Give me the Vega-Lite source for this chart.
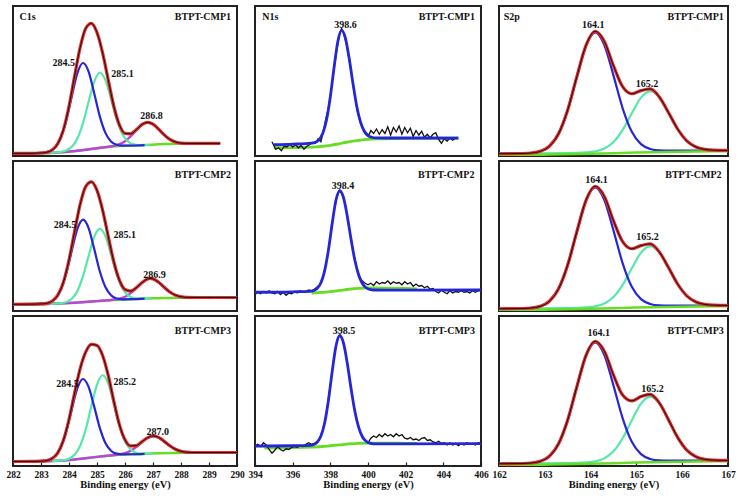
{
"$schema":"https://vega.github.io/schema/vega-lite/v6.json",
"padding":{"left":5,"top":5,"right":0,"bottom":0},
"background":"white",
"data":{"values":[
{"c":"C","r":1,"s":"bg","x":282,"y":1.8},{"c":"C","r":1,"s":"bg","x":283,"y":1.9},{"c":"C","r":1,"s":"bg","x":283.6,"y":2.3},{"c":"C","r":1,"s":"bg","x":284,"y":2.9},{"c":"C","r":1,"s":"bg","x":284.4,"y":3.7},{"c":"C","r":1,"s":"bg","x":284.8,"y":4.7},{"c":"C","r":1,"s":"bg","x":285.2,"y":5.7},{"c":"C","r":1,"s":"bg","x":285.6,"y":6.4},{"c":"C","r":1,"s":"bg","x":286,"y":6.8},{"c":"C","r":1,"s":"bg","x":286.4,"y":7.0},{"c":"C","r":1,"s":"bg","x":286.8,"y":7.4},{"c":"C","r":1,"s":"bg","x":287.2,"y":7.8},{"c":"C","r":1,"s":"bg","x":287.6,"y":8.0},{"c":"C","r":1,"s":"bg","x":288,"y":8.2},{"c":"C","r":1,"s":"bg","x":288.4,"y":8.3},{"c":"C","r":1,"s":"bg","x":289.4,"y":8.4},
{"c":"C","r":1,"s":"b","x":282,"y":1.8},{"c":"C","r":1,"s":"b","x":282.6,"y":1.8},{"c":"C","r":1,"s":"b","x":283.1,"y":2.2},{"c":"C","r":1,"s":"b","x":283.3,"y":3.1},{"c":"C","r":1,"s":"b","x":283.5,"y":5.6},{"c":"C","r":1,"s":"b","x":283.7,"y":11.9},{"c":"C","r":1,"s":"b","x":283.9,"y":23.7},{"c":"C","r":1,"s":"b","x":284.1,"y":39.9},{"c":"C","r":1,"s":"b","x":284.3,"y":55.3},{"c":"C","r":1,"s":"b","x":284.5,"y":62.0},{"c":"C","r":1,"s":"b","x":284.7,"y":56.3},{"c":"C","r":1,"s":"b","x":284.9,"y":41.8},{"c":"C","r":1,"s":"b","x":285.1,"y":26.4},{"c":"C","r":1,"s":"b","x":285.3,"y":15.4},{"c":"C","r":1,"s":"b","x":285.5,"y":9.7},{"c":"C","r":1,"s":"b","x":285.7,"y":7.5},{"c":"C","r":1,"s":"b","x":285.9,"y":6.9},{"c":"C","r":1,"s":"b","x":286.3,"y":7.0},{"c":"C","r":1,"s":"b","x":286.7,"y":7.3},
{"c":"C","r":1,"s":"g","x":283.3,"y":2.05},{"c":"C","r":1,"s":"g","x":283.7,"y":2.7},{"c":"C","r":1,"s":"g","x":283.9,"y":3.6},{"c":"C","r":1,"s":"g","x":284.1,"y":6.1},{"c":"C","r":1,"s":"g","x":284.3,"y":11.7},{"c":"C","r":1,"s":"g","x":284.5,"y":22.0},{"c":"C","r":1,"s":"g","x":284.7,"y":36.2},{"c":"C","r":1,"s":"g","x":284.9,"y":49.6},{"c":"C","r":1,"s":"g","x":285.1,"y":55.5},{"c":"C","r":1,"s":"g","x":285.3,"y":50.6},{"c":"C","r":1,"s":"g","x":285.5,"y":38.0},{"c":"C","r":1,"s":"g","x":285.7,"y":24.5},{"c":"C","r":1,"s":"g","x":285.9,"y":14.9},{"c":"C","r":1,"s":"g","x":286.1,"y":9.8},{"c":"C","r":1,"s":"g","x":286.3,"y":7.8},{"c":"C","r":1,"s":"g","x":286.5,"y":7.3},{"c":"C","r":1,"s":"g","x":286.9,"y":7.5},
{"c":"C","r":1,"s":"p","x":282,"y":1.8},{"c":"C","r":1,"s":"p","x":282.8,"y":1.9},{"c":"C","r":1,"s":"p","x":283.4,"y":2.1},{"c":"C","r":1,"s":"p","x":283.8,"y":2.6},{"c":"C","r":1,"s":"p","x":284.2,"y":3.3},{"c":"C","r":1,"s":"p","x":284.6,"y":4.2},{"c":"C","r":1,"s":"p","x":285,"y":5.2},{"c":"C","r":1,"s":"p","x":285.4,"y":6.2},{"c":"C","r":1,"s":"p","x":285.6,"y":6.8},{"c":"C","r":1,"s":"p","x":285.8,"y":7.9},{"c":"C","r":1,"s":"p","x":286,"y":9.9},{"c":"C","r":1,"s":"p","x":286.2,"y":13.1},{"c":"C","r":1,"s":"p","x":286.4,"y":17.1},{"c":"C","r":1,"s":"p","x":286.6,"y":20.8},{"c":"C","r":1,"s":"p","x":286.8,"y":22.4},{"c":"C","r":1,"s":"p","x":287,"y":21.2},{"c":"C","r":1,"s":"p","x":287.2,"y":17.9},{"c":"C","r":1,"s":"p","x":287.4,"y":14.1},{"c":"C","r":1,"s":"p","x":287.6,"y":11.1},{"c":"C","r":1,"s":"p","x":287.8,"y":9.4},{"c":"C","r":1,"s":"p","x":288,"y":8.6},{"c":"C","r":1,"s":"p","x":288.2,"y":8.4},{"c":"C","r":1,"s":"p","x":288.8,"y":8.4},{"c":"C","r":1,"s":"p","x":289.4,"y":8.4},
{"c":"C","r":1,"s":"f","x":282,"y":1.8},{"c":"C","r":1,"s":"f","x":282.6,"y":1.8},{"c":"C","r":1,"s":"f","x":283,"y":2.0},{"c":"C","r":1,"s":"f","x":283.2,"y":2.5},{"c":"C","r":1,"s":"f","x":283.4,"y":4.0},{"c":"C","r":1,"s":"f","x":283.6,"y":8.3},{"c":"C","r":1,"s":"f","x":283.8,"y":17.4},{"c":"C","r":1,"s":"f","x":284,"y":33.1},{"c":"C","r":1,"s":"f","x":284.2,"y":53.3},{"c":"C","r":1,"s":"f","x":284.4,"y":72.5},{"c":"C","r":1,"s":"f","x":284.6,"y":85.2},{"c":"C","r":1,"s":"f","x":284.8,"y":88.4},{"c":"C","r":1,"s":"f","x":285,"y":82.3},{"c":"C","r":1,"s":"f","x":285.2,"y":68.7},{"c":"C","r":1,"s":"f","x":285.4,"y":50.9},{"c":"C","r":1,"s":"f","x":285.6,"y":33.3},{"c":"C","r":1,"s":"f","x":285.8,"y":20.8},{"c":"C","r":1,"s":"f","x":286,"y":15.1},{"c":"C","r":1,"s":"f","x":286.2,"y":14.8},{"c":"C","r":1,"s":"f","x":286.4,"y":17.5},{"c":"C","r":1,"s":"f","x":286.6,"y":20.9},{"c":"C","r":1,"s":"f","x":286.8,"y":22.4},{"c":"C","r":1,"s":"f","x":287,"y":21.2},{"c":"C","r":1,"s":"f","x":287.2,"y":17.9},{"c":"C","r":1,"s":"f","x":287.4,"y":14.1},{"c":"C","r":1,"s":"f","x":287.6,"y":11.1},{"c":"C","r":1,"s":"f","x":287.8,"y":9.4},{"c":"C","r":1,"s":"f","x":288,"y":8.6},{"c":"C","r":1,"s":"f","x":288.2,"y":8.4},{"c":"C","r":1,"s":"f","x":288.8,"y":8.4},{"c":"C","r":1,"s":"f","x":289.4,"y":8.4},
{"c":"C","r":1,"s":"lab","x":283.81,"y":62.2,"t":"284.5"},{"c":"C","r":1,"s":"lab","x":285.91,"y":54.9,"t":"285.1"},{"c":"C","r":1,"s":"lab","x":286.95,"y":26.8,"t":"286.8"},{"c":"C","r":1,"s":"lab","x":282.52,"y":92.6,"t":"C1s"},{"c":"C","r":1,"s":"nm","x":289.79,"y":92.6,"t":"BTPT-CMP1"},

{"c":"C","r":2,"s":"bg","x":282,"y":4.5},{"c":"C","r":2,"s":"bg","x":283,"y":4.6},{"c":"C","r":2,"s":"bg","x":283.6,"y":4.95},{"c":"C","r":2,"s":"bg","x":284,"y":5.3},{"c":"C","r":2,"s":"bg","x":284.4,"y":5.75},{"c":"C","r":2,"s":"bg","x":284.8,"y":6.3},{"c":"C","r":2,"s":"bg","x":285.2,"y":6.85},{"c":"C","r":2,"s":"bg","x":285.6,"y":7.3},{"c":"C","r":2,"s":"bg","x":286,"y":7.65},{"c":"C","r":2,"s":"bg","x":286.4,"y":7.95},{"c":"C","r":2,"s":"bg","x":286.8,"y":8.3},{"c":"C","r":2,"s":"bg","x":287.2,"y":8.5},{"c":"C","r":2,"s":"bg","x":287.6,"y":8.7},{"c":"C","r":2,"s":"bg","x":288,"y":8.85},{"c":"C","r":2,"s":"bg","x":288.4,"y":8.9},{"c":"C","r":2,"s":"bg","x":290,"y":9.0},
{"c":"C","r":2,"s":"b","x":282,"y":4.5},{"c":"C","r":2,"s":"b","x":282.6,"y":4.55},{"c":"C","r":2,"s":"b","x":283.1,"y":4.9},{"c":"C","r":2,"s":"b","x":283.3,"y":5.7},{"c":"C","r":2,"s":"b","x":283.5,"y":8.1},{"c":"C","r":2,"s":"b","x":283.7,"y":14.0},{"c":"C","r":2,"s":"b","x":283.9,"y":25.0},{"c":"C","r":2,"s":"b","x":284.1,"y":40.3},{"c":"C","r":2,"s":"b","x":284.3,"y":54.7},{"c":"C","r":2,"s":"b","x":284.5,"y":60.9},{"c":"C","r":2,"s":"b","x":284.7,"y":55.3},{"c":"C","r":2,"s":"b","x":284.9,"y":41.4},{"c":"C","r":2,"s":"b","x":285.1,"y":26.5},{"c":"C","r":2,"s":"b","x":285.3,"y":16.0},{"c":"C","r":2,"s":"b","x":285.5,"y":10.5},{"c":"C","r":2,"s":"b","x":285.7,"y":8.3},{"c":"C","r":2,"s":"b","x":285.9,"y":7.8},{"c":"C","r":2,"s":"b","x":286.3,"y":7.9},{"c":"C","r":2,"s":"b","x":286.7,"y":8.2},
{"c":"C","r":2,"s":"g","x":283.3,"y":4.75},{"c":"C","r":2,"s":"g","x":283.7,"y":5.2},{"c":"C","r":2,"s":"g","x":283.9,"y":6.0},{"c":"C","r":2,"s":"g","x":284.1,"y":8.2},{"c":"C","r":2,"s":"g","x":284.3,"y":13.4},{"c":"C","r":2,"s":"g","x":284.5,"y":23.2},{"c":"C","r":2,"s":"g","x":284.7,"y":36.7},{"c":"C","r":2,"s":"g","x":284.9,"y":49.4},{"c":"C","r":2,"s":"g","x":285.1,"y":54.7},{"c":"C","r":2,"s":"g","x":285.3,"y":49.9},{"c":"C","r":2,"s":"g","x":285.5,"y":37.7},{"c":"C","r":2,"s":"g","x":285.7,"y":24.7},{"c":"C","r":2,"s":"g","x":285.9,"y":15.4},{"c":"C","r":2,"s":"g","x":286.1,"y":10.6},{"c":"C","r":2,"s":"g","x":286.3,"y":8.7},{"c":"C","r":2,"s":"g","x":286.5,"y":8.2},{"c":"C","r":2,"s":"g","x":286.9,"y":8.35},
{"c":"C","r":2,"s":"p","x":282,"y":4.5},{"c":"C","r":2,"s":"p","x":282.8,"y":4.55},{"c":"C","r":2,"s":"p","x":283.4,"y":4.8},{"c":"C","r":2,"s":"p","x":283.8,"y":5.1},{"c":"C","r":2,"s":"p","x":284.2,"y":5.5},{"c":"C","r":2,"s":"p","x":284.6,"y":6.0},{"c":"C","r":2,"s":"p","x":285,"y":6.6},{"c":"C","r":2,"s":"p","x":285.3,"y":7.0},{"c":"C","r":2,"s":"p","x":285.5,"y":7.3},{"c":"C","r":2,"s":"p","x":285.7,"y":7.8},{"c":"C","r":2,"s":"p","x":285.9,"y":8.7},{"c":"C","r":2,"s":"p","x":286.1,"y":10.5},{"c":"C","r":2,"s":"p","x":286.3,"y":13.4},{"c":"C","r":2,"s":"p","x":286.5,"y":17.0},{"c":"C","r":2,"s":"p","x":286.7,"y":20.3},{"c":"C","r":2,"s":"p","x":286.9,"y":21.7},{"c":"C","r":2,"s":"p","x":287.1,"y":20.6},{"c":"C","r":2,"s":"p","x":287.3,"y":17.5},{"c":"C","r":2,"s":"p","x":287.5,"y":14.1},{"c":"C","r":2,"s":"p","x":287.7,"y":11.5},{"c":"C","r":2,"s":"p","x":287.9,"y":10.0},{"c":"C","r":2,"s":"p","x":288.1,"y":9.3},{"c":"C","r":2,"s":"p","x":288.3,"y":9.0},{"c":"C","r":2,"s":"p","x":289,"y":9.0},{"c":"C","r":2,"s":"p","x":290,"y":9.0},
{"c":"C","r":2,"s":"f","x":282,"y":4.5},{"c":"C","r":2,"s":"f","x":282.6,"y":4.55},{"c":"C","r":2,"s":"f","x":283,"y":4.7},{"c":"C","r":2,"s":"f","x":283.2,"y":5.1},{"c":"C","r":2,"s":"f","x":283.4,"y":6.6},{"c":"C","r":2,"s":"f","x":283.6,"y":10.6},{"c":"C","r":2,"s":"f","x":283.8,"y":19.2},{"c":"C","r":2,"s":"f","x":284,"y":34.0},{"c":"C","r":2,"s":"f","x":284.2,"y":53.0},{"c":"C","r":2,"s":"f","x":284.4,"y":71.2},{"c":"C","r":2,"s":"f","x":284.6,"y":83.1},{"c":"C","r":2,"s":"f","x":284.8,"y":86.1},{"c":"C","r":2,"s":"f","x":285,"y":80.4},{"c":"C","r":2,"s":"f","x":285.2,"y":67.3},{"c":"C","r":2,"s":"f","x":285.4,"y":49.9},{"c":"C","r":2,"s":"f","x":285.6,"y":32.9},{"c":"C","r":2,"s":"f","x":285.8,"y":20.6},{"c":"C","r":2,"s":"f","x":286,"y":14.4},{"c":"C","r":2,"s":"f","x":286.2,"y":13.3},{"c":"C","r":2,"s":"f","x":286.4,"y":15.5},{"c":"C","r":2,"s":"f","x":286.6,"y":18.8},{"c":"C","r":2,"s":"f","x":286.8,"y":21.3},{"c":"C","r":2,"s":"f","x":286.9,"y":21.7},{"c":"C","r":2,"s":"f","x":287,"y":21.4},{"c":"C","r":2,"s":"f","x":287.2,"y":19.2},{"c":"C","r":2,"s":"f","x":287.4,"y":15.8},{"c":"C","r":2,"s":"f","x":287.6,"y":12.7},{"c":"C","r":2,"s":"f","x":287.8,"y":10.6},{"c":"C","r":2,"s":"f","x":288,"y":9.5},{"c":"C","r":2,"s":"f","x":288.2,"y":9.1},{"c":"C","r":2,"s":"f","x":288.6,"y":9.0},{"c":"C","r":2,"s":"f","x":289.2,"y":9.0},{"c":"C","r":2,"s":"f","x":290,"y":9.0},
{"c":"C","r":2,"s":"lab","x":283.86,"y":57.2,"t":"284.5"},{"c":"C","r":2,"s":"lab","x":285.99,"y":51,"t":"285.1"},{"c":"C","r":2,"s":"lab","x":287.05,"y":24,"t":"286.9"},{"c":"C","r":2,"s":"nm","x":289.79,"y":91,"t":"BTPT-CMP2"},

{"c":"C","r":3,"s":"bg","x":282,"y":3.0},{"c":"C","r":3,"s":"bg","x":283,"y":3.1},{"c":"C","r":3,"s":"bg","x":283.6,"y":3.45},{"c":"C","r":3,"s":"bg","x":284,"y":4.0},{"c":"C","r":3,"s":"bg","x":284.4,"y":4.75},{"c":"C","r":3,"s":"bg","x":284.8,"y":5.65},{"c":"C","r":3,"s":"bg","x":285.2,"y":6.5},{"c":"C","r":3,"s":"bg","x":285.6,"y":7.2},{"c":"C","r":3,"s":"bg","x":286,"y":7.65},{"c":"C","r":3,"s":"bg","x":286.4,"y":7.9},{"c":"C","r":3,"s":"bg","x":286.8,"y":8.15},{"c":"C","r":3,"s":"bg","x":287.2,"y":8.45},{"c":"C","r":3,"s":"bg","x":287.6,"y":8.65},{"c":"C","r":3,"s":"bg","x":288,"y":8.8},{"c":"C","r":3,"s":"bg","x":288.4,"y":8.9},{"c":"C","r":3,"s":"bg","x":290,"y":9.0},
{"c":"C","r":3,"s":"b","x":282,"y":3.0},{"c":"C","r":3,"s":"b","x":282.6,"y":3.05},{"c":"C","r":3,"s":"b","x":283.1,"y":3.4},{"c":"C","r":3,"s":"b","x":283.3,"y":4.2},{"c":"C","r":3,"s":"b","x":283.5,"y":6.5},{"c":"C","r":3,"s":"b","x":283.7,"y":12.2},{"c":"C","r":3,"s":"b","x":283.9,"y":23.0},{"c":"C","r":3,"s":"b","x":284.1,"y":37.9},{"c":"C","r":3,"s":"b","x":284.3,"y":51.9},{"c":"C","r":3,"s":"b","x":284.5,"y":58.0},{"c":"C","r":3,"s":"b","x":284.7,"y":52.7},{"c":"C","r":3,"s":"b","x":284.9,"y":39.6},{"c":"C","r":3,"s":"b","x":285.1,"y":25.4},{"c":"C","r":3,"s":"b","x":285.3,"y":15.3},{"c":"C","r":3,"s":"b","x":285.5,"y":10.2},{"c":"C","r":3,"s":"b","x":285.7,"y":8.2},{"c":"C","r":3,"s":"b","x":285.9,"y":7.8},{"c":"C","r":3,"s":"b","x":286.3,"y":7.85},{"c":"C","r":3,"s":"b","x":286.7,"y":8.1},
{"c":"C","r":3,"s":"g","x":283.4,"y":3.3},{"c":"C","r":3,"s":"g","x":283.8,"y":3.9},{"c":"C","r":3,"s":"g","x":284,"y":4.9},{"c":"C","r":3,"s":"g","x":284.2,"y":7.5},{"c":"C","r":3,"s":"g","x":284.4,"y":13.6},{"c":"C","r":3,"s":"g","x":284.6,"y":24.6},{"c":"C","r":3,"s":"g","x":284.8,"y":40.0},{"c":"C","r":3,"s":"g","x":285,"y":54.3},{"c":"C","r":3,"s":"g","x":285.2,"y":60.5},{"c":"C","r":3,"s":"g","x":285.4,"y":55.1},{"c":"C","r":3,"s":"g","x":285.6,"y":41.5},{"c":"C","r":3,"s":"g","x":285.8,"y":26.9},{"c":"C","r":3,"s":"g","x":286,"y":16.5},{"c":"C","r":3,"s":"g","x":286.2,"y":11.0},{"c":"C","r":3,"s":"g","x":286.4,"y":8.8},{"c":"C","r":3,"s":"g","x":286.6,"y":8.2},{"c":"C","r":3,"s":"g","x":287,"y":8.3},
{"c":"C","r":3,"s":"p","x":282,"y":3.0},{"c":"C","r":3,"s":"p","x":282.8,"y":3.05},{"c":"C","r":3,"s":"p","x":283.4,"y":3.3},{"c":"C","r":3,"s":"p","x":283.8,"y":3.7},{"c":"C","r":3,"s":"p","x":284.2,"y":4.35},{"c":"C","r":3,"s":"p","x":284.6,"y":5.2},{"c":"C","r":3,"s":"p","x":285,"y":6.1},{"c":"C","r":3,"s":"p","x":285.4,"y":6.9},{"c":"C","r":3,"s":"p","x":285.6,"y":7.3},{"c":"C","r":3,"s":"p","x":285.8,"y":7.8},{"c":"C","r":3,"s":"p","x":286,"y":8.6},{"c":"C","r":3,"s":"p","x":286.2,"y":10.2},{"c":"C","r":3,"s":"p","x":286.4,"y":12.7},{"c":"C","r":3,"s":"p","x":286.6,"y":15.9},{"c":"C","r":3,"s":"p","x":286.8,"y":18.8},{"c":"C","r":3,"s":"p","x":287,"y":20.0},{"c":"C","r":3,"s":"p","x":287.2,"y":19.1},{"c":"C","r":3,"s":"p","x":287.4,"y":16.4},{"c":"C","r":3,"s":"p","x":287.6,"y":13.5},{"c":"C","r":3,"s":"p","x":287.8,"y":11.2},{"c":"C","r":3,"s":"p","x":288,"y":9.8},{"c":"C","r":3,"s":"p","x":288.2,"y":9.2},{"c":"C","r":3,"s":"p","x":288.4,"y":9.0},{"c":"C","r":3,"s":"p","x":289,"y":9.0},{"c":"C","r":3,"s":"p","x":290,"y":9.0},
{"c":"C","r":3,"s":"f","x":282,"y":3.0},{"c":"C","r":3,"s":"f","x":282.6,"y":3.05},{"c":"C","r":3,"s":"f","x":283,"y":3.2},{"c":"C","r":3,"s":"f","x":283.2,"y":3.6},{"c":"C","r":3,"s":"f","x":283.4,"y":5.1},{"c":"C","r":3,"s":"f","x":283.6,"y":8.8},{"c":"C","r":3,"s":"f","x":283.8,"y":17.1},{"c":"C","r":3,"s":"f","x":284,"y":31.0},{"c":"C","r":3,"s":"f","x":284.2,"y":48.6},{"c":"C","r":3,"s":"f","x":284.4,"y":65.1},{"c":"C","r":3,"s":"f","x":284.6,"y":76.1},{"c":"C","r":3,"s":"f","x":284.8,"y":81.1},{"c":"C","r":3,"s":"f","x":285,"y":80.4},{"c":"C","r":3,"s":"f","x":285.2,"y":73.7},{"c":"C","r":3,"s":"f","x":285.4,"y":60.5},{"c":"C","r":3,"s":"f","x":285.6,"y":43.3},{"c":"C","r":3,"s":"f","x":285.8,"y":27.6},{"c":"C","r":3,"s":"f","x":286,"y":17.5},{"c":"C","r":3,"s":"f","x":286.2,"y":13.4},{"c":"C","r":3,"s":"f","x":286.4,"y":13.6},{"c":"C","r":3,"s":"f","x":286.6,"y":16.1},{"c":"C","r":3,"s":"f","x":286.8,"y":18.8},{"c":"C","r":3,"s":"f","x":287,"y":20.0},{"c":"C","r":3,"s":"f","x":287.2,"y":19.1},{"c":"C","r":3,"s":"f","x":287.4,"y":16.4},{"c":"C","r":3,"s":"f","x":287.6,"y":13.5},{"c":"C","r":3,"s":"f","x":287.8,"y":11.2},{"c":"C","r":3,"s":"f","x":288,"y":9.8},{"c":"C","r":3,"s":"f","x":288.2,"y":9.2},{"c":"C","r":3,"s":"f","x":288.4,"y":9.0},{"c":"C","r":3,"s":"f","x":289,"y":9.0},{"c":"C","r":3,"s":"f","x":290,"y":9.0},
{"c":"C","r":3,"s":"lab","x":283.95,"y":54.5,"t":"284.5"},{"c":"C","r":3,"s":"lab","x":285.99,"y":56.3,"t":"285.2"},{"c":"C","r":3,"s":"lab","x":287.17,"y":22.8,"t":"287.0"},{"c":"C","r":3,"s":"nm","x":289.79,"y":89.7,"t":"BTPT-CMP3"},

{"c":"N","r":1,"s":"bg","x":395,"y":5.5},{"c":"N","r":1,"s":"bg","x":396,"y":5.6},{"c":"N","r":1,"s":"bg","x":397,"y":5.9},{"c":"N","r":1,"s":"bg","x":397.6,"y":6.4},{"c":"N","r":1,"s":"bg","x":398,"y":7.1},{"c":"N","r":1,"s":"bg","x":398.4,"y":8.0},{"c":"N","r":1,"s":"bg","x":398.8,"y":9.0},{"c":"N","r":1,"s":"bg","x":399.2,"y":9.9},{"c":"N","r":1,"s":"bg","x":399.6,"y":10.6},{"c":"N","r":1,"s":"bg","x":400,"y":11.1},{"c":"N","r":1,"s":"bg","x":400.6,"y":11.4},{"c":"N","r":1,"s":"bg","x":401.5,"y":11.6},{"c":"N","r":1,"s":"bg","x":403,"y":11.8},{"c":"N","r":1,"s":"bg","x":404.8,"y":12.0},
{"c":"N","r":1,"s":"d","x":394.9,"y":9.5},{"c":"N","r":1,"s":"d","x":395.0,"y":7.0},{"c":"N","r":1,"s":"d","x":395.1,"y":4.5},{"c":"N","r":1,"s":"d","x":395.25,"y":5.5},{"c":"N","r":1,"s":"d","x":395.4,"y":3.5},{"c":"N","r":1,"s":"d","x":395.55,"y":6.5},{"c":"N","r":1,"s":"d","x":395.7,"y":6.0},{"c":"N","r":1,"s":"d","x":395.85,"y":8.0},{"c":"N","r":1,"s":"d","x":396.0,"y":6.0},{"c":"N","r":1,"s":"d","x":396.15,"y":7.5},{"c":"N","r":1,"s":"d","x":396.3,"y":5.5},{"c":"N","r":1,"s":"d","x":396.45,"y":7.0},{"c":"N","r":1,"s":"d","x":396.6,"y":4.5},{"c":"N","r":1,"s":"d","x":396.75,"y":6.5},{"c":"N","r":1,"s":"d","x":396.9,"y":7.5},{"c":"N","r":1,"s":"d","x":397.05,"y":9.0},{"c":"N","r":1,"s":"d","x":397.2,"y":8.5},{"c":"N","r":1,"s":"d","x":397.35,"y":11.5},{"c":"N","r":1,"s":"d","x":397.5,"y":9.5},{"c":"N","r":1,"s":"d","x":397.6,"y":15.0},{"c":"N","r":1,"s":"d","x":397.75,"y":24.0},{"c":"N","r":1,"s":"d","x":397.9,"y":32},{"c":"N","r":1,"s":"d","x":398.05,"y":44},{"c":"N","r":1,"s":"d","x":398.2,"y":58},{"c":"N","r":1,"s":"d","x":398.35,"y":71},{"c":"N","r":1,"s":"d","x":398.5,"y":82},{"c":"N","r":1,"s":"d","x":398.6,"y":85},{"c":"N","r":1,"s":"d","x":398.7,"y":82},{"c":"N","r":1,"s":"d","x":398.85,"y":75},{"c":"N","r":1,"s":"d","x":399.0,"y":64},{"c":"N","r":1,"s":"d","x":399.15,"y":52},{"c":"N","r":1,"s":"d","x":399.3,"y":40},{"c":"N","r":1,"s":"d","x":399.45,"y":29},{"c":"N","r":1,"s":"d","x":399.6,"y":22},{"c":"N","r":1,"s":"d","x":399.75,"y":18},{"c":"N","r":1,"s":"d","x":399.9,"y":15.5},{"c":"N","r":1,"s":"d","x":400.05,"y":14.0},{"c":"N","r":1,"s":"d","x":400.15,"y":17.0},{"c":"N","r":1,"s":"d","x":400.3,"y":15.0},{"c":"N","r":1,"s":"d","x":400.45,"y":18.0},{"c":"N","r":1,"s":"d","x":400.6,"y":14.5},{"c":"N","r":1,"s":"d","x":400.75,"y":17.5},{"c":"N","r":1,"s":"d","x":400.9,"y":15.0},{"c":"N","r":1,"s":"d","x":401.05,"y":19.5},{"c":"N","r":1,"s":"d","x":401.2,"y":14.0},{"c":"N","r":1,"s":"d","x":401.35,"y":19.0},{"c":"N","r":1,"s":"d","x":401.5,"y":16.0},{"c":"N","r":1,"s":"d","x":401.65,"y":20.0},{"c":"N","r":1,"s":"d","x":401.8,"y":14.5},{"c":"N","r":1,"s":"d","x":401.95,"y":19.0},{"c":"N","r":1,"s":"d","x":402.1,"y":15.5},{"c":"N","r":1,"s":"d","x":402.25,"y":18.5},{"c":"N","r":1,"s":"d","x":402.4,"y":13.0},{"c":"N","r":1,"s":"d","x":402.55,"y":17.0},{"c":"N","r":1,"s":"d","x":402.7,"y":14.0},{"c":"N","r":1,"s":"d","x":402.85,"y":16.5},{"c":"N","r":1,"s":"d","x":403.0,"y":12.5},{"c":"N","r":1,"s":"d","x":403.15,"y":14.5},{"c":"N","r":1,"s":"d","x":403.3,"y":12.0},{"c":"N","r":1,"s":"d","x":403.45,"y":14.5},{"c":"N","r":1,"s":"d","x":403.6,"y":15.5},{"c":"N","r":1,"s":"d","x":403.75,"y":11.0},{"c":"N","r":1,"s":"d","x":403.9,"y":8.5},{"c":"N","r":1,"s":"d","x":404.05,"y":11.5},{"c":"N","r":1,"s":"d","x":404.2,"y":10.0},{"c":"N","r":1,"s":"d","x":404.35,"y":12.0},{"c":"N","r":1,"s":"d","x":404.5,"y":10.5},{"c":"N","r":1,"s":"d","x":404.7,"y":12.5},
{"c":"N","r":1,"s":"b","x":395,"y":7.5},{"c":"N","r":1,"s":"b","x":396,"y":7.9},{"c":"N","r":1,"s":"b","x":397,"y":8.55},{"c":"N","r":1,"s":"b","x":397.2,"y":9.1},{"c":"N","r":1,"s":"b","x":397.4,"y":10.75},{"c":"N","r":1,"s":"b","x":397.6,"y":15.1},{"c":"N","r":1,"s":"b","x":397.8,"y":24.2},{"c":"N","r":1,"s":"b","x":398,"y":39.5},{"c":"N","r":1,"s":"b","x":398.2,"y":59.2},{"c":"N","r":1,"s":"b","x":398.4,"y":76.5},{"c":"N","r":1,"s":"b","x":398.6,"y":83.7},{"c":"N","r":1,"s":"b","x":398.8,"y":78.6},{"c":"N","r":1,"s":"b","x":399,"y":65.1},{"c":"N","r":1,"s":"b","x":399.2,"y":48.5},{"c":"N","r":1,"s":"b","x":399.4,"y":33.4},{"c":"N","r":1,"s":"b","x":399.6,"y":22.7},{"c":"N","r":1,"s":"b","x":399.8,"y":16.5},{"c":"N","r":1,"s":"b","x":400,"y":13.6},{"c":"N","r":1,"s":"b","x":400.2,"y":12.5},{"c":"N","r":1,"s":"b","x":400.4,"y":12.1},{"c":"N","r":1,"s":"b","x":401,"y":12.0},{"c":"N","r":1,"s":"b","x":403,"y":12.0},{"c":"N","r":1,"s":"b","x":404.8,"y":11.9},
{"c":"N","r":1,"s":"lab","x":398.81,"y":87.2,"t":"398.6"},{"c":"N","r":1,"s":"lab","x":394.81,"y":92.6,"t":"N1s"},{"c":"N","r":1,"s":"nm","x":405.68,"y":92.6,"t":"BTPT-CMP1"},

{"c":"N","r":2,"s":"bg","x":397,"y":12.0},{"c":"N","r":2,"s":"bg","x":397.6,"y":12.4},{"c":"N","r":2,"s":"bg","x":398,"y":12.9},{"c":"N","r":2,"s":"bg","x":398.5,"y":13.7},{"c":"N","r":2,"s":"bg","x":399,"y":14.5},{"c":"N","r":2,"s":"bg","x":399.5,"y":15.1},{"c":"N","r":2,"s":"bg","x":400,"y":15.4},{"c":"N","r":2,"s":"bg","x":401,"y":15.3},{"c":"N","r":2,"s":"bg","x":402,"y":15.0},{"c":"N","r":2,"s":"bg","x":402.6,"y":14.8},
{"c":"N","r":2,"s":"d","x":394.0,"y":11.0},{"c":"N","r":2,"s":"d","x":394.15,"y":12.5},{"c":"N","r":2,"s":"d","x":394.3,"y":11.5},{"c":"N","r":2,"s":"d","x":394.45,"y":13.0},{"c":"N","r":2,"s":"d","x":394.6,"y":12.0},{"c":"N","r":2,"s":"d","x":394.75,"y":13.5},{"c":"N","r":2,"s":"d","x":394.9,"y":12.0},{"c":"N","r":2,"s":"d","x":395.05,"y":11.5},{"c":"N","r":2,"s":"d","x":395.2,"y":13.0},{"c":"N","r":2,"s":"d","x":395.35,"y":11.0},{"c":"N","r":2,"s":"d","x":395.5,"y":12.5},{"c":"N","r":2,"s":"d","x":395.65,"y":10.5},{"c":"N","r":2,"s":"d","x":395.8,"y":12.0},{"c":"N","r":2,"s":"d","x":395.95,"y":11.5},{"c":"N","r":2,"s":"d","x":396.1,"y":13.0},{"c":"N","r":2,"s":"d","x":396.25,"y":12.0},{"c":"N","r":2,"s":"d","x":396.4,"y":13.5},{"c":"N","r":2,"s":"d","x":396.55,"y":12.5},{"c":"N","r":2,"s":"d","x":396.7,"y":13.0},{"c":"N","r":2,"s":"d","x":396.85,"y":14.0},{"c":"N","r":2,"s":"d","x":397.0,"y":13.5},{"c":"N","r":2,"s":"d","x":397.15,"y":14.5},{"c":"N","r":2,"s":"d","x":397.3,"y":16.0},{"c":"N","r":2,"s":"d","x":397.45,"y":17.5},{"c":"N","r":2,"s":"d","x":397.6,"y":22.0},{"c":"N","r":2,"s":"d","x":397.75,"y":30},{"c":"N","r":2,"s":"d","x":397.9,"y":41},{"c":"N","r":2,"s":"d","x":398.05,"y":54},{"c":"N","r":2,"s":"d","x":398.2,"y":67},{"c":"N","r":2,"s":"d","x":398.35,"y":76},{"c":"N","r":2,"s":"d","x":398.5,"y":80.5},{"c":"N","r":2,"s":"d","x":398.65,"y":77},{"c":"N","r":2,"s":"d","x":398.8,"y":70},{"c":"N","r":2,"s":"d","x":398.95,"y":59},{"c":"N","r":2,"s":"d","x":399.1,"y":48},{"c":"N","r":2,"s":"d","x":399.25,"y":37},{"c":"N","r":2,"s":"d","x":399.4,"y":29},{"c":"N","r":2,"s":"d","x":399.55,"y":23},{"c":"N","r":2,"s":"d","x":399.7,"y":20},{"c":"N","r":2,"s":"d","x":399.85,"y":18.5},{"c":"N","r":2,"s":"d","x":400.0,"y":17.5},{"c":"N","r":2,"s":"d","x":400.15,"y":18.5},{"c":"N","r":2,"s":"d","x":400.3,"y":17.0},{"c":"N","r":2,"s":"d","x":400.45,"y":19.5},{"c":"N","r":2,"s":"d","x":400.6,"y":18.0},{"c":"N","r":2,"s":"d","x":400.75,"y":19.0},{"c":"N","r":2,"s":"d","x":400.9,"y":18.5},{"c":"N","r":2,"s":"d","x":401.05,"y":20.0},{"c":"N","r":2,"s":"d","x":401.2,"y":18.0},{"c":"N","r":2,"s":"d","x":401.35,"y":19.5},{"c":"N","r":2,"s":"d","x":401.5,"y":18.5},{"c":"N","r":2,"s":"d","x":401.65,"y":19.0},{"c":"N","r":2,"s":"d","x":401.8,"y":17.5},{"c":"N","r":2,"s":"d","x":401.95,"y":19.5},{"c":"N","r":2,"s":"d","x":402.1,"y":18.0},{"c":"N","r":2,"s":"d","x":402.25,"y":19.0},{"c":"N","r":2,"s":"d","x":402.4,"y":16.5},{"c":"N","r":2,"s":"d","x":402.55,"y":18.0},{"c":"N","r":2,"s":"d","x":402.7,"y":16.5},{"c":"N","r":2,"s":"d","x":402.85,"y":17.0},{"c":"N","r":2,"s":"d","x":403.0,"y":15.5},{"c":"N","r":2,"s":"d","x":403.15,"y":16.5},{"c":"N","r":2,"s":"d","x":403.3,"y":14.5},{"c":"N","r":2,"s":"d","x":403.45,"y":15.0},{"c":"N","r":2,"s":"d","x":403.6,"y":13.0},{"c":"N","r":2,"s":"d","x":403.75,"y":12.0},{"c":"N","r":2,"s":"d","x":403.9,"y":14.0},{"c":"N","r":2,"s":"d","x":404.05,"y":12.5},{"c":"N","r":2,"s":"d","x":404.2,"y":11.5},{"c":"N","r":2,"s":"d","x":404.35,"y":13.5},{"c":"N","r":2,"s":"d","x":404.5,"y":12.0},{"c":"N","r":2,"s":"d","x":404.65,"y":13.0},{"c":"N","r":2,"s":"d","x":404.8,"y":12.5},{"c":"N","r":2,"s":"d","x":404.95,"y":13.5},{"c":"N","r":2,"s":"d","x":405.1,"y":12.5},{"c":"N","r":2,"s":"d","x":405.25,"y":13.0},{"c":"N","r":2,"s":"d","x":405.4,"y":12.0},{"c":"N","r":2,"s":"d","x":405.55,"y":13.5},{"c":"N","r":2,"s":"d","x":405.7,"y":12.5},{"c":"N","r":2,"s":"d","x":405.85,"y":13.5},{"c":"N","r":2,"s":"d","x":406.0,"y":14.0},
{"c":"N","r":2,"s":"b","x":394,"y":12.5},{"c":"N","r":2,"s":"b","x":396,"y":12.8},{"c":"N","r":2,"s":"b","x":396.9,"y":13.1},{"c":"N","r":2,"s":"b","x":397.1,"y":13.55},{"c":"N","r":2,"s":"b","x":397.3,"y":15.0},{"c":"N","r":2,"s":"b","x":397.5,"y":18.8},{"c":"N","r":2,"s":"b","x":397.7,"y":26.95},{"c":"N","r":2,"s":"b","x":397.9,"y":40.7},{"c":"N","r":2,"s":"b","x":398.1,"y":58.45},{"c":"N","r":2,"s":"b","x":398.3,"y":74.0},{"c":"N","r":2,"s":"b","x":398.5,"y":80.3},{"c":"N","r":2,"s":"b","x":398.7,"y":75.55},{"c":"N","r":2,"s":"b","x":398.9,"y":63.2},{"c":"N","r":2,"s":"b","x":399.1,"y":47.85},{"c":"N","r":2,"s":"b","x":399.3,"y":34.0},{"c":"N","r":2,"s":"b","x":399.5,"y":24.15},{"c":"N","r":2,"s":"b","x":399.7,"y":18.3},{"c":"N","r":2,"s":"b","x":399.9,"y":15.5},{"c":"N","r":2,"s":"b","x":400.1,"y":14.4},{"c":"N","r":2,"s":"b","x":400.3,"y":14.0},{"c":"N","r":2,"s":"b","x":402,"y":13.9},{"c":"N","r":2,"s":"b","x":406,"y":14.0},
{"c":"N","r":2,"s":"lab","x":398.67,"y":83.6,"t":"398.4"},{"c":"N","r":2,"s":"nm","x":405.65,"y":91,"t":"BTPT-CMP2"},

{"c":"N","r":3,"s":"bg","x":394.5,"y":12.0},{"c":"N","r":3,"s":"bg","x":396,"y":12.2},{"c":"N","r":3,"s":"bg","x":397,"y":12.6},{"c":"N","r":3,"s":"bg","x":397.6,"y":13.0},{"c":"N","r":3,"s":"bg","x":398,"y":13.5},{"c":"N","r":3,"s":"bg","x":398.5,"y":14.1},{"c":"N","r":3,"s":"bg","x":399,"y":14.7},{"c":"N","r":3,"s":"bg","x":399.5,"y":15.1},{"c":"N","r":3,"s":"bg","x":400,"y":15.3},{"c":"N","r":3,"s":"bg","x":401,"y":15.3},{"c":"N","r":3,"s":"bg","x":402,"y":15.1},{"c":"N","r":3,"s":"bg","x":402.6,"y":15.0},
{"c":"N","r":3,"s":"d","x":394.0,"y":13.5},{"c":"N","r":3,"s":"d","x":394.15,"y":14.5},{"c":"N","r":3,"s":"d","x":394.3,"y":13.0},{"c":"N","r":3,"s":"d","x":394.45,"y":15.5},{"c":"N","r":3,"s":"d","x":394.6,"y":14.0},{"c":"N","r":3,"s":"d","x":394.75,"y":11.0},{"c":"N","r":3,"s":"d","x":394.9,"y":8.5},{"c":"N","r":3,"s":"d","x":395.05,"y":10.5},{"c":"N","r":3,"s":"d","x":395.2,"y":13.0},{"c":"N","r":3,"s":"d","x":395.35,"y":11.0},{"c":"N","r":3,"s":"d","x":395.5,"y":10.0},{"c":"N","r":3,"s":"d","x":395.65,"y":11.5},{"c":"N","r":3,"s":"d","x":395.8,"y":11.0},{"c":"N","r":3,"s":"d","x":395.95,"y":12.5},{"c":"N","r":3,"s":"d","x":396.1,"y":13.0},{"c":"N","r":3,"s":"d","x":396.25,"y":12.5},{"c":"N","r":3,"s":"d","x":396.4,"y":13.5},{"c":"N","r":3,"s":"d","x":396.55,"y":13.0},{"c":"N","r":3,"s":"d","x":396.7,"y":14.5},{"c":"N","r":3,"s":"d","x":396.85,"y":15.5},{"c":"N","r":3,"s":"d","x":397.0,"y":14.5},{"c":"N","r":3,"s":"d","x":397.15,"y":15.0},{"c":"N","r":3,"s":"d","x":397.3,"y":16.5},{"c":"N","r":3,"s":"d","x":397.45,"y":18.5},{"c":"N","r":3,"s":"d","x":397.6,"y":24.0},{"c":"N","r":3,"s":"d","x":397.75,"y":32},{"c":"N","r":3,"s":"d","x":397.9,"y":45},{"c":"N","r":3,"s":"d","x":398.05,"y":59},{"c":"N","r":3,"s":"d","x":398.2,"y":73},{"c":"N","r":3,"s":"d","x":398.35,"y":83},{"c":"N","r":3,"s":"d","x":398.5,"y":87.5},{"c":"N","r":3,"s":"d","x":398.65,"y":84},{"c":"N","r":3,"s":"d","x":398.8,"y":76},{"c":"N","r":3,"s":"d","x":398.95,"y":64},{"c":"N","r":3,"s":"d","x":399.1,"y":52},{"c":"N","r":3,"s":"d","x":399.25,"y":40},{"c":"N","r":3,"s":"d","x":399.4,"y":31},{"c":"N","r":3,"s":"d","x":399.55,"y":24},{"c":"N","r":3,"s":"d","x":399.7,"y":19.5},{"c":"N","r":3,"s":"d","x":399.85,"y":17.0},{"c":"N","r":3,"s":"d","x":400.0,"y":15.5},{"c":"N","r":3,"s":"d","x":400.15,"y":18.5},{"c":"N","r":3,"s":"d","x":400.3,"y":20.0},{"c":"N","r":3,"s":"d","x":400.45,"y":19.0},{"c":"N","r":3,"s":"d","x":400.6,"y":21.0},{"c":"N","r":3,"s":"d","x":400.75,"y":19.5},{"c":"N","r":3,"s":"d","x":400.9,"y":21.5},{"c":"N","r":3,"s":"d","x":401.05,"y":20.0},{"c":"N","r":3,"s":"d","x":401.2,"y":21.0},{"c":"N","r":3,"s":"d","x":401.35,"y":19.5},{"c":"N","r":3,"s":"d","x":401.5,"y":21.5},{"c":"N","r":3,"s":"d","x":401.65,"y":20.0},{"c":"N","r":3,"s":"d","x":401.8,"y":21.0},{"c":"N","r":3,"s":"d","x":401.95,"y":18.5},{"c":"N","r":3,"s":"d","x":402.1,"y":18.0},{"c":"N","r":3,"s":"d","x":402.25,"y":19.0},{"c":"N","r":3,"s":"d","x":402.4,"y":17.5},{"c":"N","r":3,"s":"d","x":402.55,"y":18.0},{"c":"N","r":3,"s":"d","x":402.7,"y":17.0},{"c":"N","r":3,"s":"d","x":402.85,"y":18.5},{"c":"N","r":3,"s":"d","x":403.0,"y":19.0},{"c":"N","r":3,"s":"d","x":403.15,"y":17.0},{"c":"N","r":3,"s":"d","x":403.3,"y":17.5},{"c":"N","r":3,"s":"d","x":403.45,"y":16.0},{"c":"N","r":3,"s":"d","x":403.6,"y":15.5},{"c":"N","r":3,"s":"d","x":403.75,"y":16.5},{"c":"N","r":3,"s":"d","x":403.9,"y":15.0},{"c":"N","r":3,"s":"d","x":404.05,"y":15.5},{"c":"N","r":3,"s":"d","x":404.2,"y":14.0},{"c":"N","r":3,"s":"d","x":404.35,"y":15.5},{"c":"N","r":3,"s":"d","x":404.5,"y":14.0},{"c":"N","r":3,"s":"d","x":404.65,"y":15.0},{"c":"N","r":3,"s":"d","x":404.8,"y":13.5},{"c":"N","r":3,"s":"d","x":404.95,"y":15.0},{"c":"N","r":3,"s":"d","x":405.1,"y":14.0},{"c":"N","r":3,"s":"d","x":405.25,"y":15.5},{"c":"N","r":3,"s":"d","x":405.4,"y":14.5},{"c":"N","r":3,"s":"d","x":405.55,"y":15.0},{"c":"N","r":3,"s":"d","x":405.7,"y":14.0},{"c":"N","r":3,"s":"d","x":405.85,"y":15.5},{"c":"N","r":3,"s":"d","x":406.0,"y":15.0},
{"c":"N","r":3,"s":"b","x":394,"y":13.3},{"c":"N","r":3,"s":"b","x":396,"y":13.5},{"c":"N","r":3,"s":"b","x":396.9,"y":13.75},{"c":"N","r":3,"s":"b","x":397.1,"y":14.2},{"c":"N","r":3,"s":"b","x":397.3,"y":15.8},{"c":"N","r":3,"s":"b","x":397.5,"y":19.95},{"c":"N","r":3,"s":"b","x":397.7,"y":28.8},{"c":"N","r":3,"s":"b","x":397.9,"y":43.85},{"c":"N","r":3,"s":"b","x":398.1,"y":63.1},{"c":"N","r":3,"s":"b","x":398.3,"y":80.05},{"c":"N","r":3,"s":"b","x":398.5,"y":87.0},{"c":"N","r":3,"s":"b","x":398.7,"y":81.9},{"c":"N","r":3,"s":"b","x":398.9,"y":68.45},{"c":"N","r":3,"s":"b","x":399.1,"y":51.7},{"c":"N","r":3,"s":"b","x":399.3,"y":36.6},{"c":"N","r":3,"s":"b","x":399.5,"y":25.85},{"c":"N","r":3,"s":"b","x":399.7,"y":19.5},{"c":"N","r":3,"s":"b","x":399.9,"y":16.5},{"c":"N","r":3,"s":"b","x":400.1,"y":15.24},{"c":"N","r":3,"s":"b","x":400.3,"y":14.8},{"c":"N","r":3,"s":"b","x":402,"y":14.7},{"c":"N","r":3,"s":"b","x":406,"y":14.9},
{"c":"N","r":3,"s":"lab","x":398.73,"y":89.7,"t":"398.5"},{"c":"N","r":3,"s":"nm","x":405.68,"y":89.7,"t":"BTPT-CMP3"},

{"c":"S","r":1,"s":"bg","x":162,"y":0.5},{"c":"S","r":1,"s":"bg","x":163,"y":0.9},{"c":"S","r":1,"s":"bg","x":164,"y":1.5},{"c":"S","r":1,"s":"bg","x":165,"y":2.3},{"c":"S","r":1,"s":"bg","x":166,"y":2.9},{"c":"S","r":1,"s":"bg","x":167,"y":3.2},
{"c":"S","r":1,"s":"b","x":162,"y":1.5},{"c":"S","r":1,"s":"b","x":162.5,"y":1.65},{"c":"S","r":1,"s":"b","x":162.7,"y":2.0},{"c":"S","r":1,"s":"b","x":162.9,"y":3.1},{"c":"S","r":1,"s":"b","x":163.1,"y":6.5},{"c":"S","r":1,"s":"b","x":163.3,"y":14.8},{"c":"S","r":1,"s":"b","x":163.5,"y":30.7},{"c":"S","r":1,"s":"b","x":163.7,"y":52.9},{"c":"S","r":1,"s":"b","x":163.9,"y":73.6},{"c":"S","r":1,"s":"b","x":164.1,"y":82.4},{"c":"S","r":1,"s":"b","x":164.3,"y":74.0},{"c":"S","r":1,"s":"b","x":164.5,"y":53.6},{"c":"S","r":1,"s":"b","x":164.7,"y":31.8},{"c":"S","r":1,"s":"b","x":164.9,"y":16.1},{"c":"S","r":1,"s":"b","x":165.1,"y":7.9},{"c":"S","r":1,"s":"b","x":165.3,"y":4.7},{"c":"S","r":1,"s":"b","x":165.5,"y":3.7},{"c":"S","r":1,"s":"b","x":165.7,"y":3.55},{"c":"S","r":1,"s":"b","x":166.1,"y":3.6},{"c":"S","r":1,"s":"b","x":167,"y":3.7},
{"c":"S","r":1,"s":"g","x":162,"y":1.5},{"c":"S","r":1,"s":"g","x":163.5,"y":1.9},{"c":"S","r":1,"s":"g","x":163.9,"y":2.4},{"c":"S","r":1,"s":"g","x":164.1,"y":3.1},{"c":"S","r":1,"s":"g","x":164.3,"y":5.0},{"c":"S","r":1,"s":"g","x":164.5,"y":9.3},{"c":"S","r":1,"s":"g","x":164.7,"y":17.4},{"c":"S","r":1,"s":"g","x":164.9,"y":28.5},{"c":"S","r":1,"s":"g","x":165.1,"y":38.9},{"c":"S","r":1,"s":"g","x":165.3,"y":43.3},{"c":"S","r":1,"s":"g","x":165.5,"y":39.1},{"c":"S","r":1,"s":"g","x":165.7,"y":28.9},{"c":"S","r":1,"s":"g","x":165.9,"y":18.0},{"c":"S","r":1,"s":"g","x":166.1,"y":10.1},{"c":"S","r":1,"s":"g","x":166.3,"y":6.0},{"c":"S","r":1,"s":"g","x":166.5,"y":4.4},{"c":"S","r":1,"s":"g","x":166.7,"y":3.9},{"c":"S","r":1,"s":"g","x":167,"y":3.7},
{"c":"S","r":1,"s":"f","x":162,"y":1.5},{"c":"S","r":1,"s":"f","x":162.5,"y":1.65},{"c":"S","r":1,"s":"f","x":162.7,"y":2.0},{"c":"S","r":1,"s":"f","x":162.9,"y":3.1},{"c":"S","r":1,"s":"f","x":163.1,"y":6.5},{"c":"S","r":1,"s":"f","x":163.3,"y":14.8},{"c":"S","r":1,"s":"f","x":163.5,"y":30.7},{"c":"S","r":1,"s":"f","x":163.7,"y":52.9},{"c":"S","r":1,"s":"f","x":163.9,"y":73.8},{"c":"S","r":1,"s":"f","x":164.1,"y":83.1},{"c":"S","r":1,"s":"f","x":164.3,"y":76.4},{"c":"S","r":1,"s":"f","x":164.5,"y":60.1},{"c":"S","r":1,"s":"f","x":164.7,"y":46.2},{"c":"S","r":1,"s":"f","x":164.9,"y":41.5},{"c":"S","r":1,"s":"f","x":165.1,"y":43.6},{"c":"S","r":1,"s":"f","x":165.3,"y":44.7},{"c":"S","r":1,"s":"f","x":165.5,"y":39.4},{"c":"S","r":1,"s":"f","x":165.7,"y":29.0},{"c":"S","r":1,"s":"f","x":165.9,"y":18.0},{"c":"S","r":1,"s":"f","x":166.1,"y":10.1},{"c":"S","r":1,"s":"f","x":166.3,"y":6.0},{"c":"S","r":1,"s":"f","x":166.5,"y":4.4},{"c":"S","r":1,"s":"f","x":166.7,"y":3.9},{"c":"S","r":1,"s":"f","x":167,"y":3.7},
{"c":"S","r":1,"s":"lab","x":162.28,"y":92.6,"t":"S2p"},{"c":"S","r":1,"s":"lab","x":164.06,"y":87.2,"t":"164.1"},{"c":"S","r":1,"s":"lab","x":165.23,"y":48.2,"t":"165.2"},{"c":"S","r":1,"s":"nm","x":166.91,"y":92.6,"t":"BTPT-CMP1"},

{"c":"S","r":2,"s":"bg","x":162,"y":0.5},{"c":"S","r":2,"s":"bg","x":163,"y":0.9},{"c":"S","r":2,"s":"bg","x":164,"y":1.5},{"c":"S","r":2,"s":"bg","x":165,"y":2.3},{"c":"S","r":2,"s":"bg","x":166,"y":2.9},{"c":"S","r":2,"s":"bg","x":167,"y":3.2},
{"c":"S","r":2,"s":"b","x":162,"y":1.5},{"c":"S","r":2,"s":"b","x":162.5,"y":1.65},{"c":"S","r":2,"s":"b","x":162.7,"y":2.0},{"c":"S","r":2,"s":"b","x":162.9,"y":3.1},{"c":"S","r":2,"s":"b","x":163.1,"y":6.5},{"c":"S","r":2,"s":"b","x":163.3,"y":14.8},{"c":"S","r":2,"s":"b","x":163.5,"y":30.7},{"c":"S","r":2,"s":"b","x":163.7,"y":52.9},{"c":"S","r":2,"s":"b","x":163.9,"y":73.6},{"c":"S","r":2,"s":"b","x":164.1,"y":82.4},{"c":"S","r":2,"s":"b","x":164.3,"y":74.0},{"c":"S","r":2,"s":"b","x":164.5,"y":53.6},{"c":"S","r":2,"s":"b","x":164.7,"y":31.8},{"c":"S","r":2,"s":"b","x":164.9,"y":16.1},{"c":"S","r":2,"s":"b","x":165.1,"y":7.9},{"c":"S","r":2,"s":"b","x":165.3,"y":4.7},{"c":"S","r":2,"s":"b","x":165.5,"y":3.7},{"c":"S","r":2,"s":"b","x":165.7,"y":3.55},{"c":"S","r":2,"s":"b","x":166.1,"y":3.6},{"c":"S","r":2,"s":"b","x":167,"y":3.7},
{"c":"S","r":2,"s":"g","x":162,"y":1.5},{"c":"S","r":2,"s":"g","x":163.5,"y":1.9},{"c":"S","r":2,"s":"g","x":163.9,"y":2.4},{"c":"S","r":2,"s":"g","x":164.1,"y":3.1},{"c":"S","r":2,"s":"g","x":164.3,"y":5.0},{"c":"S","r":2,"s":"g","x":164.5,"y":9.3},{"c":"S","r":2,"s":"g","x":164.7,"y":17.4},{"c":"S","r":2,"s":"g","x":164.9,"y":28.5},{"c":"S","r":2,"s":"g","x":165.1,"y":38.9},{"c":"S","r":2,"s":"g","x":165.3,"y":43.3},{"c":"S","r":2,"s":"g","x":165.5,"y":39.1},{"c":"S","r":2,"s":"g","x":165.7,"y":28.9},{"c":"S","r":2,"s":"g","x":165.9,"y":18.0},{"c":"S","r":2,"s":"g","x":166.1,"y":10.1},{"c":"S","r":2,"s":"g","x":166.3,"y":6.0},{"c":"S","r":2,"s":"g","x":166.5,"y":4.4},{"c":"S","r":2,"s":"g","x":166.7,"y":3.9},{"c":"S","r":2,"s":"g","x":167,"y":3.7},
{"c":"S","r":2,"s":"f","x":162,"y":1.5},{"c":"S","r":2,"s":"f","x":162.5,"y":1.65},{"c":"S","r":2,"s":"f","x":162.7,"y":2.0},{"c":"S","r":2,"s":"f","x":162.9,"y":3.1},{"c":"S","r":2,"s":"f","x":163.1,"y":6.5},{"c":"S","r":2,"s":"f","x":163.3,"y":14.8},{"c":"S","r":2,"s":"f","x":163.5,"y":30.7},{"c":"S","r":2,"s":"f","x":163.7,"y":52.9},{"c":"S","r":2,"s":"f","x":163.9,"y":73.8},{"c":"S","r":2,"s":"f","x":164.1,"y":83.1},{"c":"S","r":2,"s":"f","x":164.3,"y":76.4},{"c":"S","r":2,"s":"f","x":164.5,"y":60.1},{"c":"S","r":2,"s":"f","x":164.7,"y":46.2},{"c":"S","r":2,"s":"f","x":164.9,"y":41.5},{"c":"S","r":2,"s":"f","x":165.1,"y":43.6},{"c":"S","r":2,"s":"f","x":165.3,"y":44.7},{"c":"S","r":2,"s":"f","x":165.5,"y":39.4},{"c":"S","r":2,"s":"f","x":165.7,"y":29.0},{"c":"S","r":2,"s":"f","x":165.9,"y":18.0},{"c":"S","r":2,"s":"f","x":166.1,"y":10.1},{"c":"S","r":2,"s":"f","x":166.3,"y":6.0},{"c":"S","r":2,"s":"f","x":166.5,"y":4.4},{"c":"S","r":2,"s":"f","x":166.7,"y":3.9},{"c":"S","r":2,"s":"f","x":167,"y":3.7},
{"c":"S","r":2,"s":"lab","x":164.13,"y":87.2,"t":"164.1"},{"c":"S","r":2,"s":"lab","x":165.24,"y":49.3,"t":"165.2"},{"c":"S","r":2,"s":"nm","x":166.86,"y":91,"t":"BTPT-CMP2"},

{"c":"S","r":3,"s":"bg","x":162,"y":0.5},{"c":"S","r":3,"s":"bg","x":163,"y":0.9},{"c":"S","r":3,"s":"bg","x":164,"y":1.5},{"c":"S","r":3,"s":"bg","x":165,"y":2.3},{"c":"S","r":3,"s":"bg","x":166,"y":2.9},{"c":"S","r":3,"s":"bg","x":167,"y":3.2},
{"c":"S","r":3,"s":"b","x":162,"y":1.5},{"c":"S","r":3,"s":"b","x":162.5,"y":1.65},{"c":"S","r":3,"s":"b","x":162.7,"y":2.0},{"c":"S","r":3,"s":"b","x":162.9,"y":3.1},{"c":"S","r":3,"s":"b","x":163.1,"y":6.5},{"c":"S","r":3,"s":"b","x":163.3,"y":14.8},{"c":"S","r":3,"s":"b","x":163.5,"y":30.7},{"c":"S","r":3,"s":"b","x":163.7,"y":52.9},{"c":"S","r":3,"s":"b","x":163.9,"y":73.6},{"c":"S","r":3,"s":"b","x":164.1,"y":82.4},{"c":"S","r":3,"s":"b","x":164.3,"y":74.0},{"c":"S","r":3,"s":"b","x":164.5,"y":53.6},{"c":"S","r":3,"s":"b","x":164.7,"y":31.8},{"c":"S","r":3,"s":"b","x":164.9,"y":16.1},{"c":"S","r":3,"s":"b","x":165.1,"y":7.9},{"c":"S","r":3,"s":"b","x":165.3,"y":4.7},{"c":"S","r":3,"s":"b","x":165.5,"y":3.7},{"c":"S","r":3,"s":"b","x":165.7,"y":3.55},{"c":"S","r":3,"s":"b","x":166.1,"y":3.6},{"c":"S","r":3,"s":"b","x":167,"y":3.7},
{"c":"S","r":3,"s":"g","x":162,"y":1.5},{"c":"S","r":3,"s":"g","x":163.5,"y":1.9},{"c":"S","r":3,"s":"g","x":163.9,"y":2.4},{"c":"S","r":3,"s":"g","x":164.1,"y":3.1},{"c":"S","r":3,"s":"g","x":164.3,"y":5.1},{"c":"S","r":3,"s":"g","x":164.5,"y":9.8},{"c":"S","r":3,"s":"g","x":164.7,"y":18.5},{"c":"S","r":3,"s":"g","x":164.9,"y":30.4},{"c":"S","r":3,"s":"g","x":165.1,"y":41.6},{"c":"S","r":3,"s":"g","x":165.3,"y":46.3},{"c":"S","r":3,"s":"g","x":165.5,"y":41.8},{"c":"S","r":3,"s":"g","x":165.7,"y":30.8},{"c":"S","r":3,"s":"g","x":165.9,"y":19.1},{"c":"S","r":3,"s":"g","x":166.1,"y":10.6},{"c":"S","r":3,"s":"g","x":166.3,"y":6.2},{"c":"S","r":3,"s":"g","x":166.5,"y":4.4},{"c":"S","r":3,"s":"g","x":166.7,"y":3.9},{"c":"S","r":3,"s":"g","x":167,"y":3.7},
{"c":"S","r":3,"s":"f","x":162,"y":1.5},{"c":"S","r":3,"s":"f","x":162.5,"y":1.65},{"c":"S","r":3,"s":"f","x":162.7,"y":2.0},{"c":"S","r":3,"s":"f","x":162.9,"y":3.1},{"c":"S","r":3,"s":"f","x":163.1,"y":6.5},{"c":"S","r":3,"s":"f","x":163.3,"y":14.8},{"c":"S","r":3,"s":"f","x":163.5,"y":30.7},{"c":"S","r":3,"s":"f","x":163.7,"y":52.9},{"c":"S","r":3,"s":"f","x":163.9,"y":73.8},{"c":"S","r":3,"s":"f","x":164.1,"y":83.1},{"c":"S","r":3,"s":"f","x":164.3,"y":76.5},{"c":"S","r":3,"s":"f","x":164.5,"y":60.6},{"c":"S","r":3,"s":"f","x":164.7,"y":47.3},{"c":"S","r":3,"s":"f","x":164.9,"y":43.4},{"c":"S","r":3,"s":"f","x":165.1,"y":46.3},{"c":"S","r":3,"s":"f","x":165.3,"y":47.7},{"c":"S","r":3,"s":"f","x":165.5,"y":42.1},{"c":"S","r":3,"s":"f","x":165.7,"y":30.9},{"c":"S","r":3,"s":"f","x":165.9,"y":19.1},{"c":"S","r":3,"s":"f","x":166.1,"y":10.6},{"c":"S","r":3,"s":"f","x":166.3,"y":6.2},{"c":"S","r":3,"s":"f","x":166.5,"y":4.4},{"c":"S","r":3,"s":"f","x":166.7,"y":3.9},{"c":"S","r":3,"s":"f","x":167,"y":3.7},
{"c":"S","r":3,"s":"lab","x":164.18,"y":88.5,"t":"164.1"},{"c":"S","r":3,"s":"lab","x":165.35,"y":51.4,"t":"165.2"},{"c":"S","r":3,"s":"nm","x":166.91,"y":89.7,"t":"BTPT-CMP3"}
]},
"spacing":2,
"hconcat":[
{"transform":[{"filter":"datum.c==='C'"}],
 "facet":{"row":{"field":"r","type":"ordinal","title":null,"header":{"labels":false}}},
 "spacing":{"row":5},
 "bounds":"flush",
 "spec":{"width":224,"height":150,
  "encoding":{
   "x":{"field":"x","type":"quantitative","scale":{"domain":[282,290],"nice":false,"zero":false},"axis":{"values":[282,283,284,285,286,287,288,289,290],"title":"Binding energy (eV)"}},
   "y":{"field":"y","type":"quantitative","scale":{"domain":[0,100],"nice":false,"zero":false},"axis":null}},
  "layer":[
   {"transform":[{"filter":"datum.s==='bg'"}],"mark":{"type":"line","color":"#66dd22","strokeWidth":2.5,"interpolate":"monotone","clip":true}},
   {"transform":[{"filter":"datum.s==='p'"}],"mark":{"type":"line","color":"#bb44dd","strokeWidth":2.4,"interpolate":"monotone","clip":true}},
   {"transform":[{"filter":"datum.s==='g'"}],"mark":{"type":"line","color":"#55e8a8","strokeWidth":2.2,"interpolate":"monotone","clip":true}},
   {"transform":[{"filter":"datum.s==='b'"}],"mark":{"type":"line","color":"#2626d9","strokeWidth":2.2,"interpolate":"monotone","clip":true}},
   {"transform":[{"filter":"datum.s==='f'"}],"mark":{"type":"line","color":"#e52b2b","strokeWidth":3.2,"interpolate":"monotone","clip":true}},
   {"transform":[{"filter":"datum.s==='f'"}],"mark":{"type":"line","color":"#111111","strokeWidth":1.0,"interpolate":"monotone","clip":true}},
   {"transform":[{"filter":"datum.s==='lab'"}],"mark":{"type":"text","font":"Liberation Serif","fontWeight":"bold","fontSize":10,"align":"center","baseline":"middle","color":"#111111"},"encoding":{"text":{"field":"t"}}},
   {"transform":[{"filter":"datum.s==='nm'"}],"mark":{"type":"text","font":"Liberation Serif","fontWeight":"bold","fontSize":10,"align":"right","baseline":"middle","color":"#111111"},"encoding":{"text":{"field":"t"}}}
  ]}},
{"transform":[{"filter":"datum.c==='N'"}],
 "facet":{"row":{"field":"r","type":"ordinal","title":null,"header":{"labels":false}}},
 "spacing":{"row":5},
 "bounds":"flush",
 "spec":{"width":226,"height":150,
  "encoding":{
   "x":{"field":"x","type":"quantitative","scale":{"domain":[394,406],"nice":false,"zero":false},"axis":{"values":[394,396,398,400,402,404,406],"title":"Binding energy (eV)"}},
   "y":{"field":"y","type":"quantitative","scale":{"domain":[0,100],"nice":false,"zero":false},"axis":null}},
  "layer":[
   {"transform":[{"filter":"datum.s==='bg'"}],"mark":{"type":"line","color":"#66dd22","strokeWidth":2.8,"interpolate":"monotone","clip":true}},
   {"transform":[{"filter":"datum.s==='d'"}],"mark":{"type":"line","color":"#111111","strokeWidth":1.3,"clip":true}},
   {"transform":[{"filter":"datum.s==='b'"}],"mark":{"type":"line","color":"#2626d9","strokeWidth":2.8,"interpolate":"monotone","clip":true}},
   {"transform":[{"filter":"datum.s==='lab'"}],"mark":{"type":"text","font":"Liberation Serif","fontWeight":"bold","fontSize":10,"align":"center","baseline":"middle","color":"#111111"},"encoding":{"text":{"field":"t"}}},
   {"transform":[{"filter":"datum.s==='nm'"}],"mark":{"type":"text","font":"Liberation Serif","fontWeight":"bold","fontSize":10,"align":"right","baseline":"middle","color":"#111111"},"encoding":{"text":{"field":"t"}}}
  ]}},
{"transform":[{"filter":"datum.c==='S'"}],
 "facet":{"row":{"field":"r","type":"ordinal","title":null,"header":{"labels":false}}},
 "spacing":{"row":5},
 "bounds":"flush",
 "spec":{"width":229,"height":150,
  "encoding":{
   "x":{"field":"x","type":"quantitative","scale":{"domain":[162,167],"nice":false,"zero":false},"axis":{"values":[162,163,164,165,166,167],"title":"Binding energy (eV)"}},
   "y":{"field":"y","type":"quantitative","scale":{"domain":[0,100],"nice":false,"zero":false},"axis":null}},
  "layer":[
   {"transform":[{"filter":"datum.s==='g'"}],"mark":{"type":"line","color":"#55e8a8","strokeWidth":2.2,"interpolate":"monotone","clip":true}},
   {"transform":[{"filter":"datum.s==='b'"}],"mark":{"type":"line","color":"#2626d9","strokeWidth":2.2,"interpolate":"monotone","clip":true}},
   {"transform":[{"filter":"datum.s==='bg'"}],"mark":{"type":"line","color":"#66dd22","strokeWidth":2.5,"interpolate":"monotone","clip":true}},
   {"transform":[{"filter":"datum.s==='f'"}],"mark":{"type":"line","color":"#e52b2b","strokeWidth":3.2,"interpolate":"monotone","clip":true}},
   {"transform":[{"filter":"datum.s==='f'"}],"mark":{"type":"line","color":"#111111","strokeWidth":1.0,"interpolate":"monotone","clip":true}},
   {"transform":[{"filter":"datum.s==='lab'"}],"mark":{"type":"text","font":"Liberation Serif","fontWeight":"bold","fontSize":10,"align":"center","baseline":"middle","color":"#111111"},"encoding":{"text":{"field":"t"}}},
   {"transform":[{"filter":"datum.s==='nm'"}],"mark":{"type":"text","font":"Liberation Serif","fontWeight":"bold","fontSize":10,"align":"right","baseline":"middle","color":"#111111"},"encoding":{"text":{"field":"t"}}}
  ]}}
],
"config":{
 "view":{"stroke":"#222222","strokeWidth":2},
 "axis":{"labelFont":"Liberation Serif","labelFontWeight":"bold","labelFontSize":9.5,"labelColor":"#111111","titleFont":"Liberation Serif","titleFontWeight":"bold","titleFontSize":10.5,"titleColor":"#111111","domain":false,"grid":false,"tickColor":"#222222","tickSize":-4,"tickWidth":1.2,"labelPadding":7,"titlePadding":1,"labelFlush":false,"labelOverlap":false}
}
}
